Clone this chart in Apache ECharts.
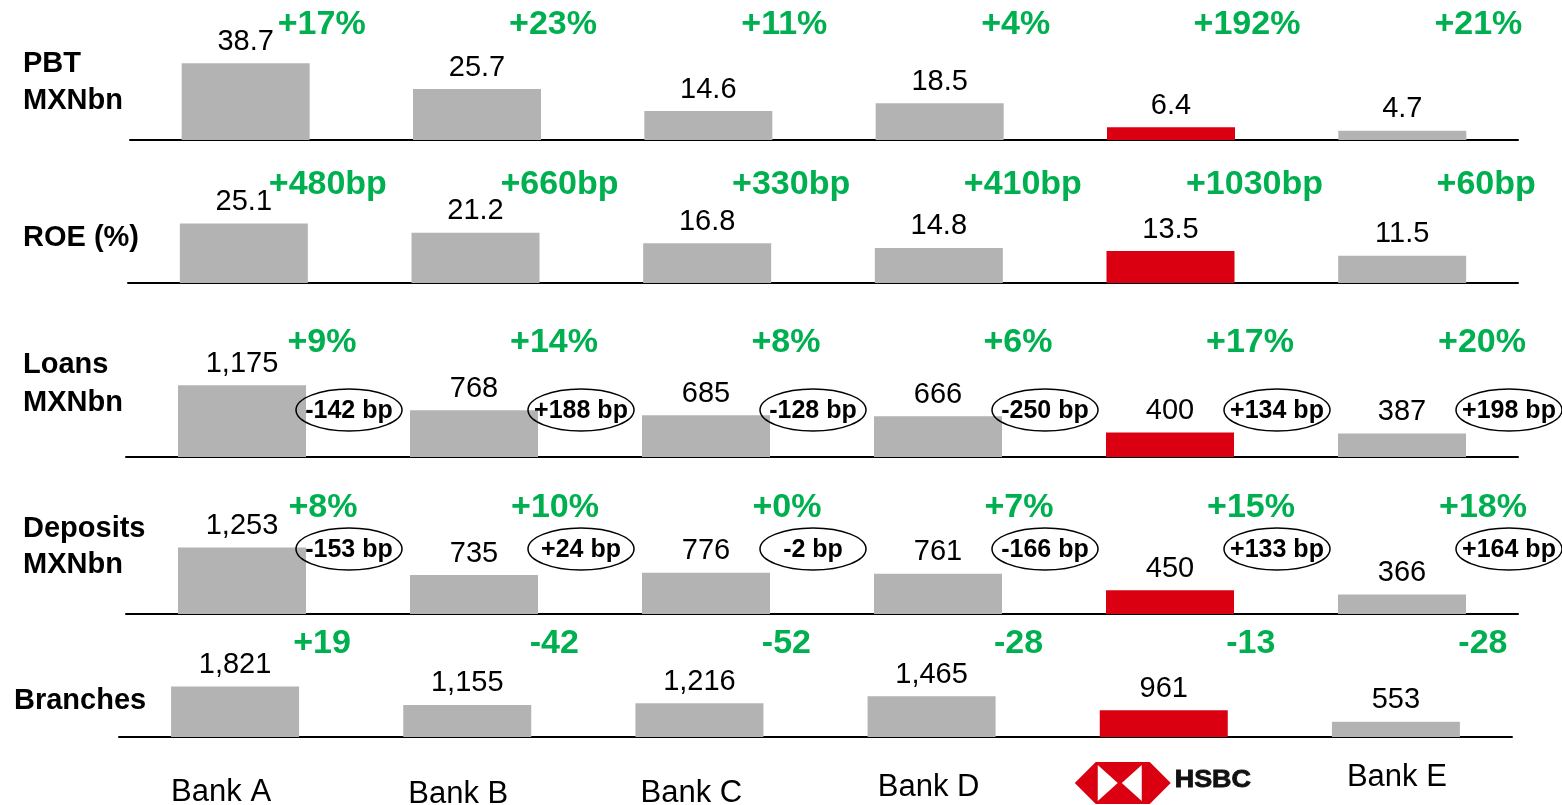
<!DOCTYPE html>
<html>
<head>
<meta charset="utf-8">
<script src="https://cdn.jsdelivr.net/npm/echarts@6/dist/echarts.min.js"></script>
<style>
  html, body { margin: 0; padding: 0; background: #fff; }
  #chart { width: 1562px; height: 805px; }
</style>
</head>
<body>
<div id="chart"></div>
<script>
// data
var banks = ['Bank A', 'Bank B', 'Bank C', 'Bank D', 'HSBC', 'Bank E'];

var pbt = [38.7, 25.7, 14.6, 18.5, 6.4, 4.7];
var pbtChg = ['+17%', '+23%', '+11%', '+4%', '+192%', '+21%'];

var roe = [25.1, 21.2, 16.8, 14.8, 13.5, 11.5];
var roeChg = ['+480bp', '+660bp', '+330bp', '+410bp', '+1030bp', '+60bp'];

var loans = [1175, 768, 685, 666, 400, 387];
var loansChg = ['+9%', '+14%', '+8%', '+6%', '+17%', '+20%'];
var loansBp = ['-142 bp', '+188 bp', '-128 bp', '-250 bp', '+134 bp', '+198 bp'];

var deposits = [1253, 735, 776, 761, 450, 366];
var depositsChg = ['+8%', '+10%', '+0%', '+7%', '+15%', '+18%'];
var depositsBp = ['-153 bp', '+24 bp', '-2 bp', '-166 bp', '+133 bp', '+164 bp'];

var branches = [1821, 1155, 1216, 1465, 961, 553];
var branchesChg = ['+19', '-42', '-52', '-28', '-13', '-28'];

// layout of each strip
var FONT = '"Liberation Sans", Arial, sans-serif';
var GREY = '#b3b3b3';
var RED = '#da0011';
var GREEN = '#00b050';
var H = 100;

var rows = [
  { title: ['PBT', 'MXNbn'], titleX: 23, titleY: [64, 101], values: pbt, chg: pbtChg, bp: null,
    base: 140, left: 130, right: 1518, ppu: 1.98, gDy: 115, gDx: 76 },
  { title: ['ROE (%)'], titleX: 23, titleY: [238], values: roe, chg: roeChg, bp: null,
    base: 283, left: 128, right: 1518, ppu: 2.37, gDy: 98, gDx: 84 },
  { title: ['Loans', 'MXNbn'], titleX: 23, titleY: [365, 403], values: loans, chg: loansChg, bp: loansBp,
    base: 457, left: 126, right: 1518, ppu: 0.061, gDy: 114, gDx: 80, eDy: 47, eDx: 107 },
  { title: ['Deposits', 'MXNbn'], titleX: 23, titleY: [529, 565], values: deposits, chg: depositsChg, bp: depositsBp,
    base: 614, left: 126, right: 1518, ppu: 0.053, gDy: 106, gDx: 81, eDy: 65, eDx: 107 },
  { title: ['Branches'], titleX: 14, titleY: [701], values: branches, chg: branchesChg, bp: null,
    base: 737, left: 119, right: 1512, ppu: 0.0278, gDy: 93, gDx: 87 }
];

// bottom category labels: x shift from bar centre, y centre
var catLabelPos = [[-14, 792], [-9, 794], [-8, 793], [-3, 787], [0, 783], [1, 777]];

var chart = echarts.init(document.getElementById('chart'));

var grids = [], xAxes = [], yAxes = [], series = [];

rows.forEach(function (r, i) {
  grids.push({ left: r.left, width: r.right - r.left, top: r.base - H, height: H });
  xAxes.push({
    type: 'category', gridIndex: i, data: banks,
    axisLine: { lineStyle: { color: '#000', width: 2 } },
    axisTick: { show: false }, axisLabel: { show: false }, splitLine: { show: false }
  });
  yAxes.push({ type: 'value', gridIndex: i, min: 0, max: H / r.ppu, show: false, splitLine: { show: false } });

  series.push({
    type: 'bar', xAxisIndex: i, yAxisIndex: i, barWidth: 128, silent: true,
    data: r.values.map(function (v, j) {
      return { value: v, itemStyle: { color: banks[j] === 'HSBC' ? RED : GREY } };
    }),
    label: {
      show: true, position: 'top', distance: 7, color: '#000',
      fontFamily: FONT, fontSize: 29,
      formatter: function (p) { return p.value.toLocaleString('en-US'); }
    }
  });

  // green change labels (and bp ellipses)
  series.push({
    type: 'custom', xAxisIndex: i, yAxisIndex: i, silent: true, z: 5,
    data: banks.map(function (b, j) { return [j, 0]; }),
    renderItem: function (params, api) {
      var p = api.coord([api.value(0), 0]);
      var k = params.dataIndex;
      var children = [{
        type: 'text', x: p[0] + r.gDx, y: p[1] - r.gDy,
        style: { text: r.chg[k], fill: GREEN, font: 'bold 34px ' + FONT, align: 'center', verticalAlign: 'middle' }
      }];
      if (r.bp) {
        children.push({
          type: 'ellipse',
          shape: { cx: p[0] + r.eDx, cy: p[1] - r.eDy, rx: 53, ry: 21 },
          style: { fill: 'none', stroke: '#000', lineWidth: 1.5 }
        });
        children.push({
          type: 'text', x: p[0] + r.eDx, y: p[1] - r.eDy + 1,
          style: { text: r.bp[k], fill: '#000', font: 'bold 25px ' + FONT, align: 'center', verticalAlign: 'middle' }
        });
      }
      return { type: 'group', children: children };
    }
  });
});

chart.setOption({
  animation: false,
  grid: grids, xAxis: xAxes, yAxis: yAxes, series: series
});

// row titles, bottom category labels and the HSBC mark
var graphics = [];
rows.forEach(function (r) {
  r.title.forEach(function (t, k) {
    graphics.push({
      type: 'text', x: r.titleX, y: r.titleY[k],
      style: { text: t, fill: '#000', font: 'bold 29px ' + FONT, verticalAlign: 'middle' }
    });
  });
});

banks.forEach(function (b, j) {
  var cx = chart.convertToPixel({ xAxisIndex: 4 }, j) + catLabelPos[j][0];
  var cy = catLabelPos[j][1];
  if (b === 'HSBC') {
    var hx = cx - 41, hh = 21, hw = 48;
    graphics.push({
      type: 'polygon',
      shape: { points: [[hx - hw, cy], [hx - hw + hh, cy - hh], [hx + hw - hh, cy - hh], [hx + hw, cy], [hx + hw - hh, cy + hh], [hx - hw + hh, cy + hh]] },
      style: { fill: RED }
    });
    graphics.push({
      type: 'polygon',
      shape: { points: [[hx - 25, cy - 18], [hx - 25, cy + 18], [hx - 5, cy]] },
      style: { fill: '#fff' }
    });
    graphics.push({
      type: 'polygon',
      shape: { points: [[hx + 19, cy - 18], [hx + 19, cy + 18], [hx - 1, cy]] },
      style: { fill: '#fff' }
    });
    graphics.push({
      type: 'text', x: cx + 11, y: cy - 3, scaleX: 1.12,
      style: { text: 'HSBC', fill: '#111', stroke: '#111', lineWidth: 0.8, font: 'bold 24px ' + FONT, verticalAlign: 'middle' }
    });
  } else {
    graphics.push({
      type: 'text', x: cx, y: cy,
      style: { text: b, fill: '#000', font: '31px ' + FONT, align: 'center', verticalAlign: 'middle' }
    });
  }
});

chart.setOption({ graphic: graphics });
</script>
</body>
</html>
